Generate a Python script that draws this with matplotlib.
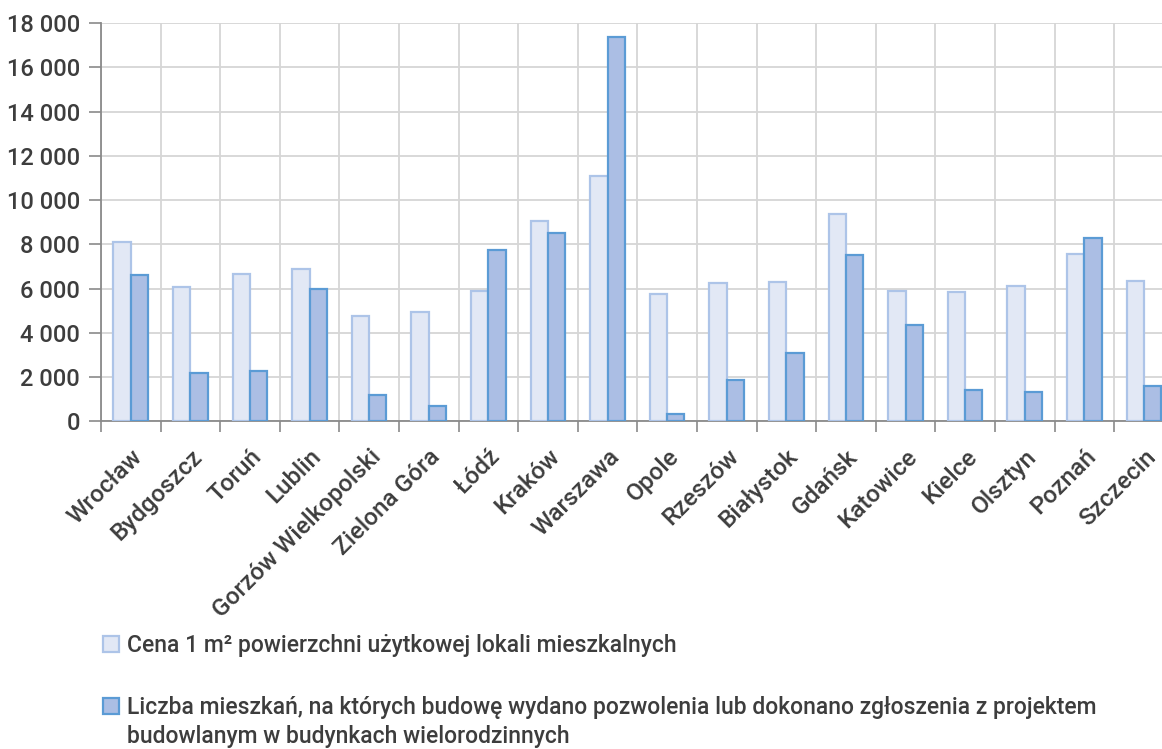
import numpy as np
import matplotlib
matplotlib.use("Agg")
import matplotlib.pyplot as plt
from matplotlib.ticker import FuncFormatter
from matplotlib.patches import Patch

# Miasta wojewódzkie
cities = ["Wrocław", "Bydgoszcz", "Toruń", "Lublin", "Gorzów Wielkopolski",
          "Zielona Góra", "Łódź", "Kraków", "Warszawa", "Opole", "Rzeszów",
          "Białystok", "Gdańsk", "Katowice", "Kielce", "Olsztyn", "Poznań",
          "Szczecin"]

# Cena 1 m2 (zł)
price = [8100, 6050, 6650, 6900, 4770, 4930, 5870, 9050, 11090, 5740, 6240,
         6280, 9370, 5890, 5850, 6130, 7560, 6340]

# Liczba mieszkań z pozwoleniem / zgłoszeniem
flats = [6600, 2200, 2270, 6000, 1200, 690, 7730, 8520, 17380, 320, 1880,
         3090, 7530, 4340, 1420, 1320, 8290, 1610]

label_price = "Cena 1 m² powierzchni użytkowej lokali mieszkalnych"
label_flats = "Liczba mieszkań, na których budowę wydano pozwolenia lub dokonano zgłoszenia z projektem"
label_flats_2 = "budowlanym w budynkach wielorodzinnych"

plt.rcParams['font.family'] = ['Roboto', 'DejaVu Sans']
plt.rcParams['font.weight'] = 'medium'
text_col = "#3d3d3d"
axis_col = "#8a8a8a"
light_fc, light_ec = "#e2e8f5", "#adc4e8"
dark_fc, dark_ec = "#abbee4", "#5b9bd5"

fig = plt.figure(figsize=(11.62, 7.49), dpi=100)
ax = fig.add_axes([0.0869, 0.4375, 0.9232, 0.5318])

x = np.arange(len(cities))
w = 0.29
ax.bar(x - w / 2, price, w, color=light_fc, edgecolor=light_ec, linewidth=1.6, zorder=3)
ax.bar(x + w / 2, flats, w, color=dark_fc, edgecolor=dark_ec, linewidth=1.6, zorder=3)

ax.set_xlim(-0.5, len(cities) - 0.5)
ax.set_ylim(0, 18000)
ax.set_yticks(np.arange(0, 18001, 2000))
ax.yaxis.set_major_formatter(FuncFormatter(lambda v, p: f"{int(v):,}".replace(",", " ")))

# separators between categories carry the tick marks and vertical grid
ax.set_xticks(np.arange(-0.5, len(cities), 1.0))
ax.set_xticklabels([])
ax.set_xticks(x, minor=True)
ax.set_xticklabels(cities, minor=True, rotation=45, ha="right",
                   rotation_mode="anchor", fontsize=17.5, color=text_col)
ax.tick_params(axis="x", which="minor", length=0, pad=17)
ax.tick_params(axis="x", which="major", length=8, width=1.2, color=axis_col)
ax.tick_params(axis="y", length=9, width=1.2, color=axis_col, labelsize=17,
               labelcolor=text_col, pad=6)

ax.grid(True, which="major", axis="both", color="#d6d6d6", linewidth=1.3)
ax.set_axisbelow(True)
for s in ["top", "right"]:
    ax.spines[s].set_visible(False)
for s in ["left", "bottom"]:
    ax.spines[s].set_color(axis_col)
    ax.spines[s].set_linewidth(1.3)

handles = [Patch(facecolor=light_fc, edgecolor=light_ec, linewidth=1.6, label=label_price),
           Patch(facecolor=dark_fc, edgecolor=dark_ec, linewidth=1.6, label=label_flats)]
fig.legend(handles=handles, loc="upper left", bbox_to_anchor=(103 / 1162, 1 - 634 / 749),
           frameon=False, fontsize=16.5, labelcolor=text_col, handlelength=0.7,
           handleheight=0.7, handletextpad=0.35, labelspacing=1.7, borderpad=0,
           borderaxespad=0)
fig.text(127 / 1162, 1 - 737 / 749, label_flats_2, fontsize=16.5, color=text_col,
         va="center", ha="left")

fig.savefig("out.png", dpi=100)
